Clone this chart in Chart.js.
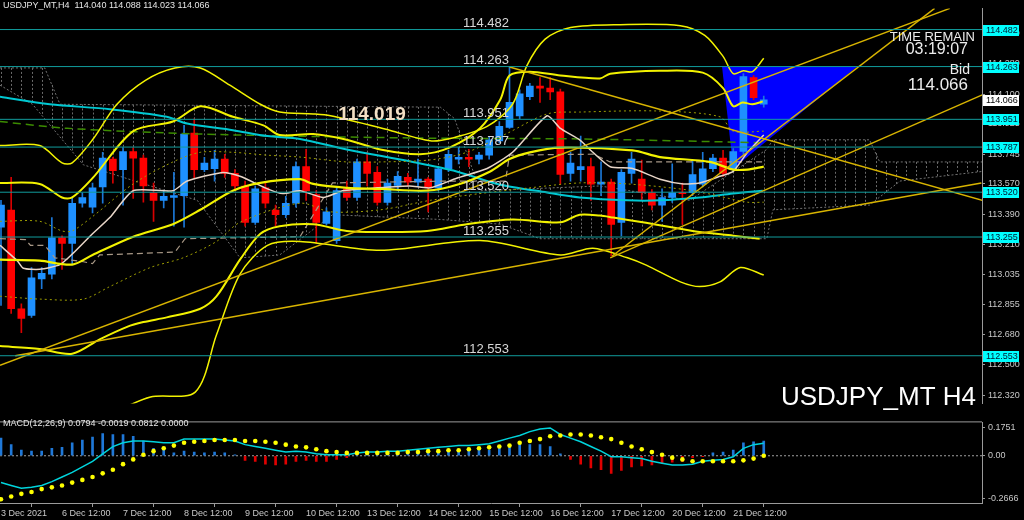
<!DOCTYPE html>
<html><head><meta charset="utf-8">
<script src="https://cdn.jsdelivr.net/npm/chart.js@4.4.0/dist/chart.umd.min.js"></script>
<style>
html,body{margin:0;padding:0;background:#000;width:1024px;height:520px;overflow:hidden;}
canvas{position:absolute;left:0;}
#main{top:0;}
#macd{top:414px;}
</style></head><body>
<canvas id="main" width="1024" height="412"></canvas>
<canvas id="macd" width="1024" height="106"></canvas>
<script>
// ---------- DATA ----------
const barOpen = [113.314,113.415,112.831,112.791,113.007,113.035,113.251,113.217,113.455,113.432,
 113.552,113.716,113.654,113.761,113.722,113.517,113.472,113.489,113.500,113.869,
 113.654,113.659,113.716,113.631,113.557,113.341,113.546,113.415,113.387,113.455,
 113.671,113.506,113.336,113.234,113.540,113.489,113.699,113.637,113.460,113.560,
 113.608,113.580,113.597,113.546,113.659,113.716,113.727,113.716,113.739,113.824,
 113.903,113.971,114.085,114.147,114.136,114.113,113.631,113.654,113.671,113.568,
 113.580,113.341,113.631,113.597,113.517,113.444,113.489,113.517,113.517,113.568,
 113.659,113.722,113.654,113.761,114.198,114.040];
const barHigh = [113.472,113.608,112.860,113.075,113.075,113.370,113.262,113.489,113.517,113.574,
 113.756,113.727,113.784,113.784,113.739,113.574,113.529,113.637,113.915,113.954,
 113.727,113.767,113.744,113.654,113.586,113.557,113.574,113.444,113.495,113.699,
 113.773,113.529,113.427,113.546,113.586,113.716,113.756,113.671,113.597,113.642,
 113.631,113.716,113.608,113.671,113.767,113.784,113.773,113.756,113.847,113.937,
 114.263,114.125,114.164,114.198,114.198,114.130,113.756,113.852,113.722,113.699,
 113.597,113.654,113.756,113.710,113.535,113.540,113.688,113.574,113.710,113.756,
 113.744,113.767,113.778,114.221,114.210,114.088];
const barLow = [112.850,112.803,112.690,112.780,112.950,113.007,113.064,113.092,113.432,113.398,
 113.455,113.574,113.444,113.483,113.461,113.347,113.427,113.319,113.313,113.603,
 113.642,113.585,113.608,113.529,113.319,113.330,113.427,113.319,113.370,113.432,
 113.472,113.217,113.325,113.217,113.472,113.472,113.557,113.444,113.444,113.529,
 113.557,113.557,113.404,113.529,113.642,113.688,113.671,113.688,113.716,113.812,
 113.898,113.954,114.068,114.051,114.068,113.568,113.586,113.586,113.472,113.500,
 113.143,113.262,113.574,113.472,113.415,113.347,113.460,113.330,113.500,113.552,
 113.642,113.614,113.642,113.744,114.068,114.023];
const barClose = [113.444,112.831,112.774,113.013,113.041,113.251,113.217,113.455,113.489,113.546,
 113.722,113.648,113.761,113.722,113.557,113.472,113.495,113.500,113.864,113.654,
 113.693,113.716,113.631,113.557,113.341,113.540,113.455,113.387,113.455,113.671,
 113.529,113.341,113.404,113.529,113.489,113.699,113.631,113.460,113.574,113.614,
 113.580,113.597,113.546,113.659,113.744,113.727,113.716,113.739,113.830,113.909,
 114.051,114.102,114.147,114.136,114.113,113.625,113.693,113.671,113.568,113.580,
 113.330,113.637,113.716,113.517,113.444,113.489,113.517,113.512,113.625,113.659,
 113.722,113.631,113.761,114.204,114.079,114.066];

const dayLabels = ['3 Dec 2021','6 Dec 12:00','7 Dec 12:00','8 Dec 12:00','9 Dec 12:00','10 Dec 12:00',
 '13 Dec 12:00','14 Dec 12:00','15 Dec 12:00','16 Dec 12:00','17 Dec 12:00','20 Dec 12:00','21 Dec 12:00'];
const dayLabelBars = [0,6,12,18,24,30,36,42,48,54,60,66,72];
const priceTicks = [114.460,114.280,114.100,113.925,113.745,113.570,113.390,113.210,113.035,112.855,112.680,112.500,112.320];
const levelPrices = [114.482,114.263,113.951,113.787,113.520,113.255,112.553];
const bidPrice = 114.066;

// indicator polylines: [bar, price]
const bbUpper3 = [[-0.1,113.796],[3.8,113.796],[6.0,113.694],[7.0,113.694],[9.0,113.830],[11.4,114.040],[14.2,114.182],[17.1,114.255],[19.6,114.255],[22.5,114.153],[25.5,114.040],[27.4,113.994],[30.7,113.983],[32.4,113.972],[38.2,113.887],[42.2,113.824],[44.4,113.841],[47.8,113.909],[50.3,114.040],[51.7,114.267],[53.5,114.425],[56.0,114.494],[60.9,114.511],[66.8,114.505],[69.2,114.448],[71.0,114.323],[72.0,114.221],[73.0,114.238],[73.9,114.233],[75.0,114.312]];
const bbUpper2 = [[-0.1,113.575],[3.8,113.569],[6.0,113.489],[7.0,113.489],[9.0,113.603],[13.0,113.881],[16.9,113.938],[19.6,114.028],[22.8,113.966],[25.8,113.915],[27.4,113.858],[30.7,113.864],[34.0,113.830],[37.3,113.773],[41.2,113.745],[44.1,113.784],[47.1,113.898],[49.1,114.068],[50.0,114.210],[52.0,114.233],[55.0,114.210],[58.9,114.193],[59.9,114.221],[64.8,114.238],[69.0,114.227],[71.0,114.136],[72.0,114.028],[72.9,114.051],[73.9,114.040],[74.9,114.057]];
const bbMiddle = [[-0.1,113.121],[3.8,113.115],[7.0,113.092],[9.0,113.149],[13.0,113.257],[16.9,113.331],[19.6,113.416],[22.8,113.529],[25.5,113.575],[29.4,113.597],[30.7,113.569],[34.0,113.546],[37.3,113.540],[41.9,113.529],[45.1,113.569],[48.1,113.643],[50.0,113.716],[52.0,113.756],[55.0,113.784],[62.1,113.767],[64.8,113.728],[69.7,113.699],[72.0,113.654],[73.4,113.654],[75.0,113.671]];
const bbLower2 = [[-0.1,112.610],[3.8,112.593],[7.0,112.565],[9.7,112.650],[12.4,112.724],[14.0,112.752],[16.3,112.780],[19.6,112.831],[21.2,112.905],[23.5,113.121],[25.5,113.274],[27.4,113.319],[30.7,113.331],[34.0,113.291],[37.3,113.285],[41.9,113.291],[45.8,113.331],[50.3,113.359],[55.0,113.342],[56.9,113.387],[58.9,113.382],[60.2,113.370],[63.1,113.342],[68.0,113.291],[72.0,113.263],[74.6,113.245]];
const bbLower3 = [[-0.1,112.168],[9.7,112.196],[14.7,112.309],[19.1,112.338],[21.2,112.678],[23.5,113.036],[26.2,113.206],[29.4,113.229],[37.3,113.177],[47.1,113.234],[55.0,113.149],[58.2,113.189],[61.6,113.132],[63.5,113.087],[66.8,112.990],[68.7,112.962],[70.7,112.990],[72.7,113.075],[75.0,113.030]];
const bbUpper1 = [[-0.1,113.348],[3.8,113.348],[6.0,113.291],[7.0,113.291],[9.0,113.376],[13.0,113.569],[16.9,113.699],[19.6,113.756],[22.8,113.756],[26.2,113.739],[29.4,113.728],[34.0,113.699],[37.3,113.699],[42.2,113.711],[45.8,113.756],[49.8,113.869],[53.7,113.983],[56.9,113.994],[64.8,114.000],[70.7,113.966],[72.0,113.881],[75.0,113.881]];
const bbLower1 = [[-0.1,112.905],[3.8,112.888],[8.1,112.888],[10.7,112.962],[14.7,113.075],[17.9,113.132],[21.2,113.229],[23.5,113.342],[29.4,113.455],[32.4,113.404],[37.3,113.416],[42.2,113.472],[47.1,113.512],[52.0,113.546],[56.9,113.575],[61.6,113.569],[68.0,113.529],[73.4,113.461],[75.0,113.461]];
const maCyan = [[-0.1,114.085],[4.8,114.040],[10.7,114.011],[16.3,113.966],[18.3,113.926],[22.8,113.887],[26.2,113.852],[29.4,113.835],[34.0,113.773],[40.5,113.699],[44.8,113.643],[48.8,113.569],[53.7,113.518],[56.9,113.489],[61.6,113.472],[64.8,113.472],[68.7,113.489],[72.0,113.512],[74.9,113.529]];
const maGreen = [[-0.1,113.938],[6.5,113.898],[19.6,113.864],[40.2,113.841],[56.9,113.835],[74.6,113.813]];
const tenkan = [[-0.1,113.206],[1.6,113.115],[2.2,113.070],[3.8,113.064],[5.8,113.092],[7.1,113.160],[8.8,113.263],[10.7,113.370],[13.0,113.529],[16.9,113.529],[18.3,113.586],[21.8,113.637],[23.5,113.614],[26.2,113.540],[27.7,113.512],[29.4,113.529],[31.7,113.489],[33.6,113.529],[37.0,113.546],[40.2,113.557],[42.2,113.546],[44.8,113.603],[47.8,113.660],[50.3,113.756],[53.7,113.972],[55.0,113.898],[56.9,113.830],[58.2,113.756],[59.9,113.671],[62.1,113.660],[64.8,113.597],[67.1,113.569],[68.7,113.575],[70.7,113.614],[72.0,113.643],[73.4,113.756],[75.0,113.858]];
const kijun = [[-0.1,113.245],[2.4,113.240],[2.9,113.206],[4.3,113.206],[5.3,113.132],[8.1,113.109],[9.0,113.098],[9.7,113.149],[17.1,113.166],[18.1,113.245],[29.4,113.257],[32.6,113.575],[44.1,113.586],[49.6,113.586],[50.0,113.739],[58.2,113.745],[59.9,113.699],[75.0,113.699]];
const cloudTop = [[-0.1,114.255],[4.3,114.255],[5.8,114.040],[43.2,114.023],[44.6,113.955],[47.1,113.529],[58.9,113.557],[67.7,113.472],[75.3,113.773],[75.9,113.830],[85.4,113.830],[86.4,113.699],[96.5,113.699]];
const cloudBottom = [[-0.1,114.153],[3.1,114.040],[8.1,113.682],[14.7,113.557],[19.3,113.472],[23.5,113.132],[27.4,113.149],[32.6,113.387],[43.2,113.359],[49.1,113.331],[53.0,113.245],[75.3,113.245],[75.9,113.416],[85.4,113.444],[88.4,113.586],[96.5,113.643]];
const trendLines = [
  [[1.4,112.553],[96.4,113.575]],
  [[-0.1,112.497],[93.3,114.607]],
  [[50.0,114.261],[96.5,113.472]],
  [[60.1,113.143],[91.8,114.607]],
  [[59.9,113.132],[96.5,114.096]]
];
const triangle = [[70.9,114.263],[84.2,114.263],[72.0,113.660]];

const macdMain = [-0.169,-0.187,-0.204,-0.199,-0.187,-0.163,-0.134,-0.105,-0.070,-0.035,
 0.012,0.058,0.082,0.093,0.093,0.088,0.082,0.082,0.105,0.105,
 0.105,0.105,0.099,0.093,0.070,0.058,0.047,0.035,0.023,0.029,
 0.023,0.012,0.006,0.006,0.006,0.018,0.023,0.023,0.029,0.029,
 0.035,0.041,0.047,0.053,0.058,0.064,0.064,0.070,0.076,0.093,
 0.111,0.128,0.152,0.169,0.175,0.134,0.111,0.088,0.058,0.029,
 -0.006,-0.006,-0.012,-0.018,-0.035,-0.047,-0.058,-0.058,-0.053,-0.035,
 -0.029,-0.023,-0.006,0.047,0.070,0.079];
const macdSignal = [-0.274,-0.257,-0.240,-0.228,-0.210,-0.199,-0.187,-0.169,-0.152,-0.134,
 -0.111,-0.088,-0.053,-0.023,0.006,0.029,0.047,0.064,0.082,0.088,
 0.093,0.099,0.099,0.099,0.093,0.093,0.088,0.082,0.070,0.058,
 0.053,0.041,0.029,0.023,0.018,0.018,0.018,0.018,0.018,0.018,
 0.023,0.023,0.029,0.029,0.035,0.035,0.041,0.047,0.053,0.058,
 0.064,0.082,0.093,0.105,0.123,0.128,0.134,0.134,0.128,0.117,
 0.105,0.082,0.058,0.041,0.023,0.006,-0.012,-0.023,-0.035,-0.035,
 -0.035,-0.035,-0.035,-0.029,-0.018,0.000];
const macdHist = [0.111,0.070,0.035,0.029,0.029,0.047,0.053,0.082,0.099,0.117,
 0.140,0.134,0.134,0.123,0.093,0.047,0.047,0.018,0.029,0.023,
 0.018,0.023,0.018,0.006,-0.029,-0.035,-0.053,-0.058,-0.053,-0.035,
 -0.029,-0.035,-0.035,-0.023,-0.012,0.023,0.023,0.018,0.018,0.023,
 0.029,0.029,0.029,0.035,0.035,0.029,0.047,0.047,0.035,0.058,
 0.070,0.082,0.070,0.070,0.058,0.012,-0.023,-0.053,-0.076,-0.088,
 -0.111,-0.093,-0.070,-0.064,-0.058,-0.047,-0.041,-0.035,-0.012,-0.006,
 0.018,0.023,0.035,0.082,0.088,0.093];
const macdTicks = [0.1751, 0, -0.2666];
const macdTickLabels = ['0.1751','0.00','-0.2666'];

const headerText = 'USDJPY_MT,H4  114.040 114.088 114.023 114.066';
const macdText = 'MACD(12,26,9) 0.0794 -0.0019 0.0812 0.0000';

// ---------- SETUP ----------
const FONT = "'Liberation Sans', Arial, sans-serif";
Chart.defaults.font.family = FONT;
Chart.defaults.color = '#c8c8c8';
const X_MIN = -0.0983, X_MAX = 96.46;
const AXIS_COL = '#9a9a9a';

const pts = arr => arr.map(p => ({x: p[0], y: p[1]}));
const lineDs = (arr, color, width, dash, order, tension) => ({
  type: 'line', data: pts(arr), borderColor: color, borderWidth: width,
  borderDash: dash || [], pointRadius: 0, tension: tension || 0, order: order, fill: false
});
function interp(poly, v) {
  for (let k = 0; k < poly.length - 1; k++) {
    const a = poly[k], b = poly[k + 1];
    if (v >= a[0] && v <= b[0]) { const t = (v - a[0]) / ((b[0] - a[0]) || 1); return a[1] + t * (b[1] - a[1]); }
  }
  return null;
}

const idx = barOpen.map((_, i) => i);
const bull = idx.map(i => barClose[i] >= barOpen[i]);
const bodyColors = bull.map(b => b ? '#1e90ff' : '#ff0000');
const wickColors = bull.map(b => b ? '#1b78d8' : '#d80000');

const YEL = '#f2f200', GOLD = '#d8b400';
const datasets = [];
levelPrices.forEach(v => datasets.push(lineDs([[X_MIN, v], [X_MAX, v]], '#119c9c', 1, null, 0)));
trendLines.forEach(t => datasets.push(lineDs(t, GOLD, 1.5, null, 1)));
datasets.push(lineDs(bbUpper3, YEL, 1.5, null, 2, 0.3));
datasets.push(lineDs(bbUpper2, YEL, 2, null, 2, 0.3));
datasets.push(lineDs(bbMiddle, YEL, 2.2, null, 2, 0.3));
datasets.push(lineDs(bbLower2, YEL, 2, null, 2, 0.3));
datasets.push(lineDs(bbLower3, YEL, 1.5, null, 2, 0.3));
datasets.push(lineDs(tenkan, '#e8d6c8', 1.5, null, 3, 0.2));
datasets.push(lineDs(kijun, '#a89886', 1.2, [6, 4], 3));
datasets.push(lineDs(bbUpper1, '#9c9c00', 1, [2, 3], 3, 0.3));
datasets.push(lineDs(bbLower1, '#9c9c00', 1, [2, 3], 3, 0.3));
datasets.push(lineDs(maCyan, '#00c8d2', 2, null, 3, 0.3));
datasets.push(lineDs(maGreen, '#3c8c00', 1.5, [8, 5], 3, 0.3));
datasets.push(lineDs(cloudTop, '#707070', 1, [2, 2], 9));
datasets.push(lineDs(cloudBottom, '#707070', 1, [2, 2], 9));
datasets.push({type: 'bar', data: idx.map(i => ({x: i, y: [barOpen[i], barClose[i]]})),
  backgroundColor: bodyColors, barThickness: 7, minBarLength: 1, grouped: false, order: 5, borderWidth: 0});
datasets.push({type: 'bar', data: idx.map(i => ({x: i, y: [barLow[i], barHigh[i]]})),
  backgroundColor: wickColors, barThickness: 1, grouped: false, order: 6, borderWidth: 0});

const mainOverlay = {
  id: 'mainOverlay',
  beforeDatasetsDraw(chart) {
    const {ctx, chartArea: a, scales: {x, y}} = chart;
    ctx.save();
    ctx.beginPath(); ctx.rect(a.left, a.top, a.right - a.left, a.bottom - a.top); ctx.clip();
    ctx.strokeStyle = '#6a6a6a'; ctx.lineWidth = 1; ctx.setLineDash([2, 2]);
    for (let i = 0; i <= 96; i++) {
      const t = interp(cloudTop, i), b = interp(cloudBottom, i);
      if (t == null || b == null) continue;
      const px = Math.round(x.getPixelForValue(i)) + 0.5;
      ctx.beginPath(); ctx.moveTo(px, y.getPixelForValue(t)); ctx.lineTo(px, y.getPixelForValue(b)); ctx.stroke();
    }
    ctx.setLineDash([]);
    ctx.fillStyle = '#0000ff';
    ctx.beginPath();
    triangle.forEach((p, k) => {
      const px = x.getPixelForValue(p[0]), py = y.getPixelForValue(p[1]);
      if (k) ctx.lineTo(px, py); else ctx.moveTo(px, py);
    });
    ctx.closePath(); ctx.fill();
    ctx.restore();
  },
  afterDraw(chart) {
    const {ctx, scales: {y}} = chart;
    ctx.save();
    ctx.textBaseline = 'middle'; ctx.textAlign = 'left';
    ctx.fillStyle = '#e6e6e6'; ctx.font = '9px ' + FONT;
    ctx.fillText(headerText, 3, 6);
    // level texts
    ctx.font = '13px ' + FONT; ctx.fillStyle = '#d8d8d8'; ctx.textBaseline = 'alphabetic';
    levelPrices.forEach(v => ctx.fillText(v.toFixed(3), 463, y.getPixelForValue(v) - 2.5));
    ctx.textBaseline = 'middle';
    ctx.font = 'bold 19px ' + FONT; ctx.fillStyle = '#f2dfc4'; ctx.textAlign = 'center';
    ctx.fillText('114.019', 372, 115);
    ctx.textAlign = 'right'; ctx.fillStyle = '#ececec';
    ctx.font = '13px ' + FONT; ctx.fillText('TIME REMAIN', 975, 37);
    ctx.font = '16px ' + FONT; ctx.fillText('03:19:07', 968, 50);
    ctx.font = '14px ' + FONT; ctx.fillText('Bid', 970, 70);
    ctx.font = '17px ' + FONT; ctx.fillText(bidPrice.toFixed(3), 968, 85);
    ctx.font = '26px ' + FONT; ctx.fillStyle = '#ffffff'; ctx.fillText('USDJPY_MT H4', 976, 398);
    // axis price boxes
    ctx.textAlign = 'left'; ctx.font = '9px ' + FONT;
    levelPrices.forEach(v => {
      const py = Math.round(y.getPixelForValue(v));
      ctx.fillStyle = '#00ffff'; ctx.fillRect(983, py - 5, 36, 11);
      ctx.fillStyle = '#001830'; ctx.fillText(v.toFixed(3), 986, py + 0.5);
    });
    const by = Math.round(y.getPixelForValue(bidPrice));
    ctx.fillStyle = '#ffffff'; ctx.fillRect(983, by - 5, 36, 11);
    ctx.fillStyle = '#000000'; ctx.fillText(bidPrice.toFixed(3), 986, by + 0.5);
    ctx.restore();
  }
};

new Chart(document.getElementById('main'), {
  type: 'line',
  data: {datasets},
  options: {
    responsive: false, animation: false, devicePixelRatio: 1,
    layout: {padding: 0, autoPadding: false},
    plugins: {legend: {display: false}, tooltip: {enabled: false}},
    scales: {
      x: {type: 'linear', min: X_MIN, max: X_MAX, offset: false, display: false},
      y: {type: 'linear', position: 'right', min: 112.270, max: 114.607,
        afterBuildTicks: s => { s.ticks = priceTicks.map(v => ({value: v})); },
        afterFit: s => { s.width = 42; },
        ticks: {callback: v => Number(v).toFixed(3), font: {size: 9}, color: '#c8c8c8', padding: 3},
        grid: {drawOnChartArea: false, tickLength: 3, color: AXIS_COL},
        border: {color: AXIS_COL}}
    }
  },
  plugins: [mainOverlay]
});

// ---------- MACD ----------
const macdOverlay = {
  id: 'macdOverlay',
  afterDraw(chart) {
    const {ctx, chartArea: a} = chart;
    ctx.save();
    ctx.strokeStyle = AXIS_COL; ctx.lineWidth = 1;
    ctx.beginPath(); ctx.moveTo(0, a.top - 0.5); ctx.lineTo(a.right, a.top - 0.5); ctx.stroke();
    ctx.fillStyle = '#e6e6e6'; ctx.font = '9px ' + FONT; ctx.textBaseline = 'middle';
    ctx.fillText(macdText, 3, 10);
    ctx.restore();
  }
};

new Chart(document.getElementById('macd'), {
  type: 'line',
  data: {datasets: [
    {type: 'line', data: macdSignal.map((v, i) => ({x: i, y: v})), showLine: false, pointRadius: 2.3,
      pointBackgroundColor: '#ffff00', pointBorderWidth: 0, order: 0},
    {type: 'line', data: macdMain.map((v, i) => ({x: i, y: v})), borderColor: '#00d4dc', borderWidth: 1.5,
      pointRadius: 0, order: 1},
    lineDs([[X_MIN, 0], [X_MAX, 0]], '#a0a0a0', 1, [2, 2], 3),
    {type: 'bar', data: macdHist.map((v, i) => ({x: i, y: v})),
      backgroundColor: macdHist.map(v => v >= 0 ? '#1f78d8' : '#e00000'), barThickness: 2, order: 2, borderWidth: 0}
  ]},
  options: {
    responsive: false, animation: false, devicePixelRatio: 1,
    layout: {padding: {top: 2, left: 0, right: 0, bottom: 0}, autoPadding: false},
    plugins: {legend: {display: false}, tooltip: {enabled: false}},
    scales: {
      x: {type: 'linear', min: X_MIN, max: X_MAX, offset: false,
        afterBuildTicks: s => { s.ticks = dayLabelBars.map(v => ({value: v})); },
        afterFit: s => { s.height = 17; },
        ticks: {callback: v => dayLabels[dayLabelBars.indexOf(v)], align: 'start', maxRotation: 0, autoSkip: false,
          font: {size: 9}, color: '#c8c8c8', padding: 1},
        grid: {drawOnChartArea: false, tickLength: 4, color: AXIS_COL},
        border: {color: AXIS_COL}},
      y: {type: 'linear', position: 'right', min: -0.2977, max: 0.2102,
        afterBuildTicks: s => { s.ticks = macdTicks.map(v => ({value: v})); },
        afterFit: s => { s.width = 42; },
        ticks: {callback: v => macdTickLabels[macdTicks.indexOf(v)], font: {size: 9}, color: '#c8c8c8', padding: 3},
        grid: {drawOnChartArea: false, tickLength: 3, color: AXIS_COL},
        border: {color: AXIS_COL}}
    }
  },
  plugins: [macdOverlay]
});
</script>
</body></html>
